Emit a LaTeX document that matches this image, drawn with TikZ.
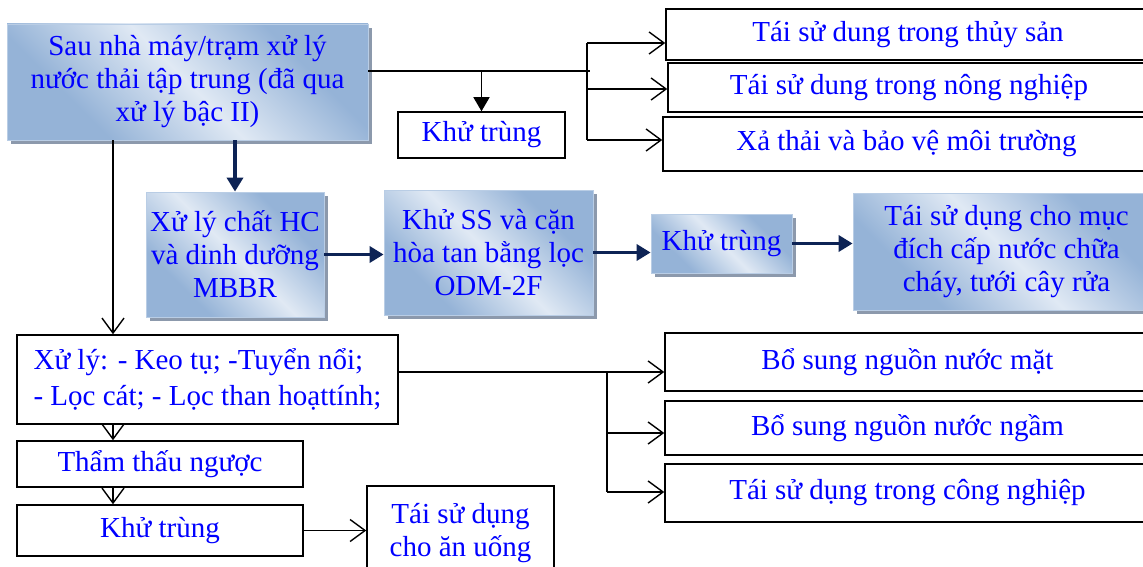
\documentclass[tikz,border=0pt]{standalone}
\usepackage{fontspec}
\setmainfont{Liberation Serif}
\usetikzlibrary{arrows.meta,shadows}

\definecolor{bxdark}{RGB}{149,179,215}
\definecolor{bxlight}{RGB}{224,233,244}
\definecolor{bxedge}{RGB}{185,205,229}
\definecolor{shadowgray}{RGB}{140,153,172}
\definecolor{navy}{RGB}{13,35,85}
\pgfdeclarehorizontalshading{boxfade}{100bp}{color(0bp)=(bxdark); color(30bp)=(bxdark); color(50bp)=(bxlight); color(70bp)=(bxdark); color(100bp)=(bxdark)}

\tikzset{
    bluebox/.style={draw=bxedge, line width=0.8pt, shade, shading=boxfade, shading angle=45,
        drop shadow={fill=shadowgray, opacity=1, shadow xshift=4pt, shadow yshift=-4pt},
        text=blue, align=center, inner sep=2pt},
    linebox/.style={draw=black, line width=1.5pt, fill=white, text=blue, align=center, inner sep=2pt},
    openhead/.style={-{Straight Barb[length=15pt,width=22pt]}},
    fullhead/.style={-{Triangle[length=14pt,width=16pt]}}
}

\begin{document}
\begin{tikzpicture}[x=1pt, y=-1pt, font=\fontsize{29}{33}\selectfont]
        \useasboundingbox (0,0) rectangle (1143,567);
        \clip (0,0) rectangle (1143,567);
        \begin{scope}[
            every node/.style={bluebox}
        ]
            \node[minimum width=361pt, minimum height=116pt] (S) at (187.5, 82) {Sau nhà máy/trạm xử lý\\nước thải tập trung (đã qua\\xử lý bậc II)};
            \node[minimum width=178pt, minimum height=125pt] (M1) at (235, 254.5) {Xử lý chất HC\\và dinh dưỡng\\MBBR};
            \node[minimum width=209pt, minimum height=125pt] (M2) at (488.5, 252.5) {Khử SS và cặn\\hòa tan bằng lọc\\ODM-2F};
            \node[minimum width=141pt, minimum height=59pt] (M3) at (721.5, 243.5) {Khử trùng};
            \node[minimum width=307pt, minimum height=117pt] (M4) at (1006.5, 251.5) {Tái sử dụng cho mục\\đích cấp nước chữa\\cháy, tưới cây rửa};
        \end{scope}
        \begin{scope}[
            every node/.style={linebox}
        ]
            \node[minimum width=167pt, minimum height=46pt] (K1) at (481.5, 135) {Khử trùng};
            \node[minimum width=484pt, minimum height=51pt] (T1) at (908, 34.5) {Tái sử dung trong thủy sản};
            \node[minimum width=482pt, minimum height=49pt] (T2) at (909, 87.5) {Tái sử dung trong nông nghiệp};
            \node[minimum width=487pt, minimum height=54pt] (T3) at (906.5, 144) {Xả thải và bảo vệ môi trường};

            \node[minimum width=381pt, minimum height=89pt, align=left, font=\fontsize{29}{36}\selectfont] (X1) at (207.5, 379.5) {Xử lý: - Keo tụ; -Tuyển nổi;\\- Lọc cát; - Lọc than hoạttính;};
            \node[minimum width=286pt, minimum height=46pt] (X2) at (160, 464) {Thẩm thấu ngược};
            \node[minimum width=286pt, minimum height=51pt] (X3) at (160, 530.5) {Khử trùng};
            \node[minimum width=187pt, minimum height=94pt] (U) at (460.5, 533) {Tái sử dụng\\cho ăn uống};

            \node[minimum width=485pt, minimum height=58pt] (B1) at (907.5, 362) {Bổ sung nguồn nước mặt};
            \node[minimum width=485pt, minimum height=54pt] (B2) at (907.5, 428) {Bổ sung nguồn nước ngầm};
            \node[minimum width=485pt, minimum height=58pt] (B3) at (907.5, 493) {Tái sử dụng trong công nghiệp};
        \end{scope}

        % branch points
        \coordinate (jT) at (590, 71);
        \coordinate (t1) at (587, 43);
        \coordinate (t2) at (587, 89);
        \coordinate (t3) at (587, 140);
        \coordinate (L) at (113, 0);
        \coordinate (jB) at (607, 372);
        \coordinate (b2) at (607, 433);
        \coordinate (b3) at (607, 492);

        \begin{scope}[
            line width=1.4pt
        ]
            \draw ([yshift=11pt]S.east) -- (jT);
            \draw (t1) -- (t3);
            \draw[fullhead] (K1.north |- jT) -- (K1.north);
            \draw[openhead] (t1) -- (t1 -| T1.west);
            \draw[openhead] (t2) -- (t2 -| T2.west);
            \draw[openhead] (t3) -- (t3 -| T3.west);

            \draw[openhead] (L |- S.south) -- (L |- X1.north);
            \draw[openhead] (L |- X1.south) -- (L |- X2.north);
            \draw[openhead] (L |- X2.south) -- (L |- X3.north);
            \draw[openhead] (X3.east) -- (X3.east -| U.west);

            \draw[openhead] ([yshift=7.5pt]X1.east) -- (jB -| B1.west);
            \draw (jB) -- (b3);
            \draw[openhead] (b2) -- (b2 -| B2.west);
            \draw[openhead] (b3) -- (b3 -| B3.west);
        \end{scope}
        \begin{scope}[
            every edge/.style={draw=navy, line width=3.5pt}
        ]
            \path [-{Triangle[length=14pt,width=16pt]}] (M1.north |- S.south) edge (M1.north);
            \path [-{Triangle[length=14pt,width=16pt]}] (M1.east) edge (M1.east -| M2.west);
            \path [-{Triangle[length=14pt,width=16pt]}] (M2.east) edge (M2.east -| M3.west);
            \path [-{Triangle[length=14pt,width=16pt]}] (M3.east) edge (M3.east -| M4.west);
        \end{scope}
    \end{tikzpicture}
\end{document}
